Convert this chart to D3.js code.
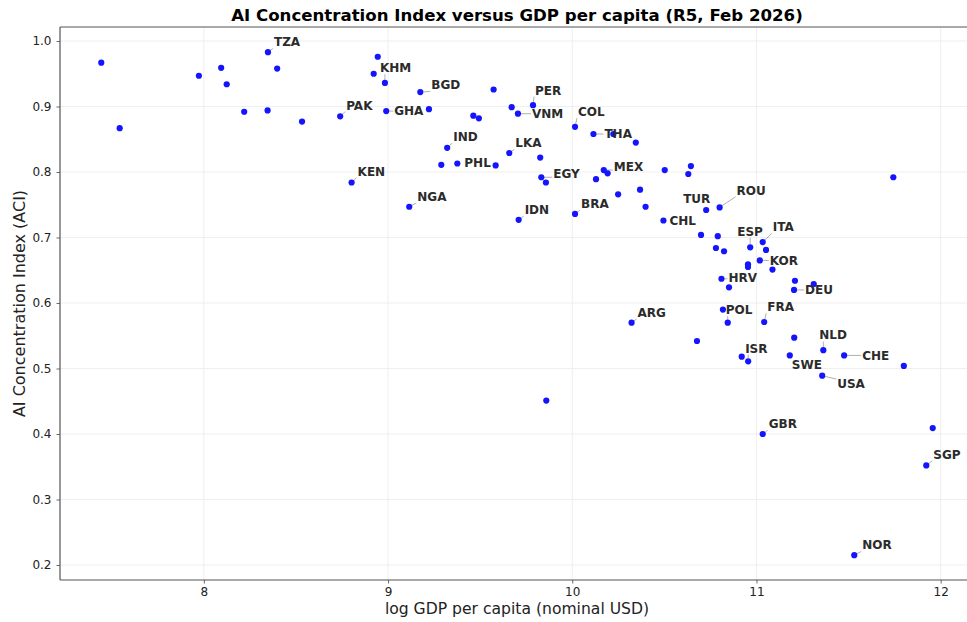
<!DOCTYPE html>
<html>
<head>
<meta charset="utf-8">
<script src="https://cdn.jsdelivr.net/npm/d3@7"></script>
<style>
  body { margin: 0; background: #fff; }
  svg { display: block; font-family: "DejaVu Sans", sans-serif; }
</style>
</head>
<body>
<svg id="chart" width="967" height="622"></svg>
<script>
// Country codes ("" = unlabelled country), log GDP per capita and ACI score
const codes = [
  "", "", "", "", "", "", "TZA", "", "", "",
  "PAK", "KEN", "", "", "KHM", "GHA", "NGA", "BGD", "", "",
  "IND", "PHL", "", "", "", "", "LKA", "", "VNM", "IDN",
  "PER", "", "EGY", "", "", "COL", "BRA", "THA", "", "MEX",
  "", "", "", "ARG", "", "", "", "CHL", "", "",
  "", "", "", "TUR", "", "", "ROU", "HRV", "", "",
  "POL", "", "", "", "", "ISR", "ESP", "KOR", "ITA", "GBR",
  "FRA", "", "", "SWE", "DEU", "", "", "", "USA", "NLD",
  "CHE", "NOR", "", "", "SGP", ""
];
const logGdp = [
  7.443, 7.543, 7.973, 8.094, 8.124, 8.219, 8.348, 8.398, 8.346, 8.533,
  8.740, 8.802, 8.944, 8.922, 8.983, 8.990, 9.115, 9.175, 9.222, 9.289,
  9.321, 9.376, 9.463, 9.493, 9.573, 9.584, 9.658, 9.671, 9.705, 9.709,
  9.787, 9.826, 9.832, 9.857, 9.859, 10.015, 10.015, 10.115, 10.129, 10.171,
  10.192, 10.223, 10.249, 10.322, 10.345, 10.368, 10.398, 10.495, 10.502, 10.630,
  10.644, 10.677, 10.699, 10.727, 10.780, 10.790, 10.800, 10.810, 10.818, 10.824,
  10.844, 10.851, 10.920, 10.954, 10.954, 10.955, 10.966, 11.018, 11.034, 11.034,
  11.042, 11.052, 11.087, 11.181, 11.204, 11.205, 11.209, 11.311, 11.357, 11.363,
  11.476, 11.531, 11.743, 11.800, 11.922, 11.957
];
const aci = [
  0.967, 0.867, 0.947, 0.959, 0.934, 0.892, 0.983, 0.958, 0.894, 0.877,
  0.885, 0.784, 0.976, 0.950, 0.936, 0.893, 0.747, 0.922, 0.896, 0.811,
  0.837, 0.813, 0.886, 0.882, 0.926, 0.810, 0.829, 0.899, 0.889, 0.727,
  0.902, 0.822, 0.792, 0.784, 0.451, 0.869, 0.736, 0.858, 0.789, 0.803,
  0.798, 0.858, 0.766, 0.570, 0.845, 0.773, 0.747, 0.726, 0.803, 0.797,
  0.809, 0.542, 0.704, 0.742, 0.684, 0.702, 0.746, 0.637, 0.590, 0.679,
  0.570, 0.624, 0.518, 0.659, 0.655, 0.511, 0.685, 0.665, 0.693, 0.400,
  0.571, 0.681, 0.651, 0.520, 0.620, 0.547, 0.634, 0.629, 0.489, 0.528,
  0.520, 0.215, 0.792, 0.504, 0.352, 0.409
];
const xTicks = [8, 9, 10, 11, 12];
const yTicks = [0.2, 0.3, 0.4, 0.5, 0.6, 0.7, 0.8, 0.9, 1.0];

// Label placement: left edge and vertical centre of each label, relative to its marker (px)
const labelOffset = {
  TZA: [6, -10], PAK: [6, -11], KEN: [6, -11], KHM: [-5, -15], BGD: [11, -7],
  GHA: [8, 0], NGA: [8, -10], IND: [6, -11], PHL: [7, -1], LKA: [6, -10],
  PER: [2, -15], VNM: [14, 0], COL: [3, -15], THA: [11, 0], EGY: [12, -4],
  MEX: [10, -3], IDN: [6, -10], BRA: [6, -10], ARG: [6, -10], CHL: [6, 0],
  TUR: [-23, -11], ROU: [17, -17], ESP: [-13, -16], ITA: [10, -15], KOR: [10, 0],
  HRV: [7, -1], DEU: [11, 0], POL: [-2, -13], FRA: [3, -15], NLD: [-4, -15],
  CHE: [18, 0], ISR: [-3, -13], SWE: [2, 9], USA: [15, 8], GBR: [6, -10],
  SGP: [7, -11], NOR: [8, -10]
};

const plot = { left: 60, right: 974, top: 27, bottom: 580 };
const svg = d3.select("#chart");

const x = d3.scaleLinear().domain([7.219, 12.181]).range([plot.left, plot.right]);
const y = d3.scaleLinear().domain([0.1771, 1.0214]).range([plot.bottom, plot.top]);

// Grid
const grid = svg.append("g");
grid.selectAll("line.gx").data(xTicks).join("line")
  .attr("x1", d => x(d)).attr("x2", d => x(d))
  .attr("y1", plot.top).attr("y2", plot.bottom)
  .attr("stroke", "#ebebeb").attr("stroke-width", 0.8);
grid.selectAll("line.gy").data(yTicks).join("line")
  .attr("y1", d => y(d)).attr("y2", d => y(d))
  .attr("x1", plot.left).attr("x2", plot.right)
  .attr("stroke", "#ebebeb").attr("stroke-width", 0.8);

// Axes
const xAxis = svg.append("g")
  .attr("transform", `translate(0,${plot.bottom})`)
  .call(d3.axisBottom(x).tickValues(xTicks).tickFormat(d3.format("d")).tickSize(3.5).tickPadding(4));
const yAxis = svg.append("g")
  .attr("transform", `translate(${plot.left},0)`)
  .call(d3.axisLeft(y).tickValues(yTicks).tickFormat(d3.format(".1f")).tickSize(3.5).tickPadding(5));
[xAxis, yAxis].forEach(g => {
  g.select(".domain").remove();
  g.selectAll(".tick line").attr("stroke", "#444").attr("stroke-width", 0.8);
  g.selectAll(".tick text").attr("fill", "#222").style("font-size", "12px")
    .style("font-family", "'DejaVu Sans', sans-serif");
});

// Spines (left, bottom, top)
const spine = svg.append("g").attr("stroke", "#555").attr("stroke-width", 1.2).attr("fill", "none");
spine.append("line").attr("x1", plot.left).attr("x2", plot.left).attr("y1", plot.top).attr("y2", plot.bottom);
spine.append("line").attr("x1", plot.left).attr("x2", plot.right).attr("y1", plot.bottom).attr("y2", plot.bottom);
spine.append("line").attr("x1", plot.left).attr("x2", plot.right).attr("y1", plot.top).attr("y2", plot.top);
spine.append("line").attr("x1", plot.right).attr("x2", plot.right).attr("y1", plot.top).attr("y2", plot.bottom);

const data = codes.map((c, i) => ({ code: c, gdp: logGdp[i], aci: aci[i] }));

const leaderG = svg.append("g");
const dotG = svg.append("g");
const labelG = svg.append("g");

dotG.selectAll("circle").data(data).join("circle")
  .attr("cx", d => x(d.gdp)).attr("cy", d => y(d.aci))
  .attr("r", 3.1).attr("fill", "#1414ff");

const labelled = data.filter(d => d.code);
const labels = labelG.selectAll("text").data(labelled).join("text")
  .attr("x", d => x(d.gdp) + labelOffset[d.code][0])
  .attr("y", d => y(d.aci) + labelOffset[d.code][1])
  .attr("dy", "0.36em")
  .attr("fill", "#2b2b2b")
  .style("font-size", "12px").style("font-weight", "bold")
  .text(d => d.code);

// Thin grey leader line from a marker to its label's box, when the label sits away from it
labels.each(function(d) {
  const b = this.getBBox();
  const px = x(d.gdp), py = y(d.aci);
  const pad = 1;
  const nx = Math.max(b.x - pad, Math.min(px, b.x + b.width + pad));
  const ny = Math.max(b.y + 2, Math.min(py, b.y + b.height - 1));
  const len = Math.hypot(nx - px, ny - py);
  if (len > 6) {
    const ux = (nx - px) / len, uy = (ny - py) / len;
    leaderG.append("line")
      .attr("x1", px + ux * 3).attr("y1", py + uy * 3)
      .attr("x2", nx).attr("y2", ny)
      .attr("stroke", "#9a9a9a").attr("stroke-width", 0.8);
  }
});

// Titles
svg.append("text").attr("x", (plot.left + plot.right) / 2).attr("y", 21)
  .attr("text-anchor", "middle").attr("fill", "#000")
  .style("font-size", "16.6px").style("font-weight", "bold")
  .text("AI Concentration Index versus GDP per capita (R5, Feb 2026)");
svg.append("text").attr("x", (plot.left + plot.right) / 2).attr("y", 614)
  .attr("text-anchor", "middle").attr("fill", "#222")
  .style("font-size", "15.6px")
  .text("log GDP per capita (nominal USD)");
svg.append("text")
  .attr("transform", `translate(25,${(plot.top + plot.bottom) / 2}) rotate(-90)`)
  .attr("text-anchor", "middle").attr("fill", "#222")
  .style("font-size", "16px")
  .text("AI Concentration Index (ACI)");
</script>
</body>
</html>
